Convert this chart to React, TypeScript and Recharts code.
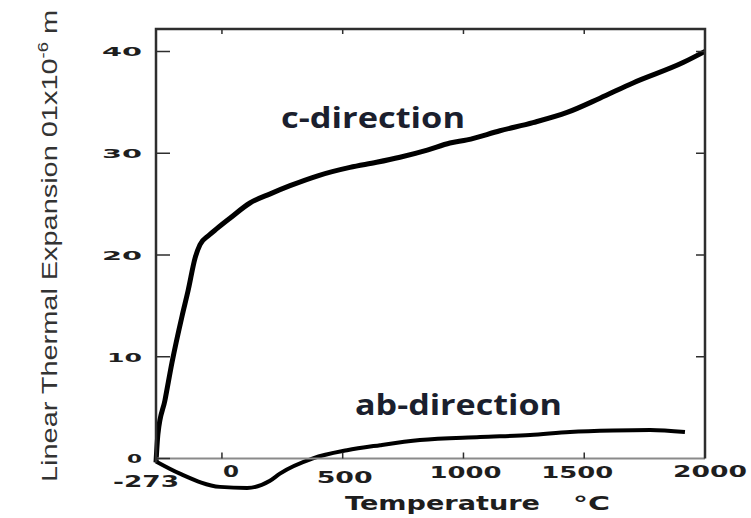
import { LineChart, Line, XAxis, YAxis } from "recharts";

document.body.style.margin = "0";

// temperature (°C) / expansion readings
const C_TEMPS = [-273, -265, -236, -207, -165, -140, -111, -91, -55, -20, 33, 116, 200, 282, 400, 530, 640, 737, 850, 944, 1015, 1151, 1288, 1429, 1565, 1702, 1909, 2000];
const C_VALUES = [-0.4, 2.4, 5.7, 9.4, 14.0, 16.5, 19.7, 21.0, 21.9, 22.6, 23.6, 25.1, 26.0, 26.8, 27.8, 28.6, 29.1, 29.6, 30.3, 31.0, 31.3, 32.2, 33.0, 34.0, 35.4, 36.9, 38.9, 40.0];

const AB_TEMPS = [-273, -174, -8, 104, 199, 240, 377, 518, 655, 820, 1069, 1276, 1441, 1619, 1773, 1917];
const AB_VALUES = [-0.3, -1.5, -2.8, -2.9, -2.2, -1.5, 0, 0.8, 1.3, 1.8, 2.1, 2.3, 2.6, 2.75, 2.8, 2.6];

const X_TICKS = [-273, 0, 500, 1000, 1500, 2000];
const X_INNER_TICKS = [0, 500, 1000, 1500];
const Y_TICKS = [0, 10, 20, 30, 40];

const X_DOMAIN: [number, number] = [-273, 2000];
const Y_DOMAIN: [number, number] = [-3.5, 42.2];

const cData = C_TEMPS.map((t, i) => ({ t, v: C_VALUES[i] }));
const abData = AB_TEMPS.map((t, i) => ({ t, v: AB_VALUES[i] }));

// chart layout
const W = 751;
const H = 518;
const M = { top: 29, right: 46, bottom: 0, left: 0 };
const Y_AXIS_W = 156;
const X_AXIS_H = 24;
const PL = M.left + Y_AXIS_W;
const PR = W - M.right;
const PT = M.top;
const PB = H - M.bottom - X_AXIS_H;
const px = (t: number) => PL + ((t - X_DOMAIN[0]) / (X_DOMAIN[1] - X_DOMAIN[0])) * (PR - PL);
const py = (v: number) => PT + ((Y_DOMAIN[1] - v) / (Y_DOMAIN[1] - Y_DOMAIN[0])) * (PB - PT);

const INK = "#1e1e1e";
const FRAME = "#2e2e2e";
const WIDE = { fontFamily: "'DejaVu Sans', sans-serif", fontWeight: 700 };

// the scanned digits are very wide; stretch them to the measured widths
const X_LABEL = {
  "-273": { dx: -10, dy: -15, w: 66 },
  "0": { dx: 9, dy: -25, w: 16 },
  "500": { dx: 2, dy: -19, w: 56 },
  "1000": { dx: 2, dy: -24, w: 72 },
  "1500": { dx: -7, dy: -24, w: 72 },
  "2000": { dx: 5, dy: -25, w: 74 },
} as Record<string, { dx: number; dy: number; w: number }>;

function XTick(props: any) {
  const { x, y, payload } = props;
  const s = String(payload.value);
  const o = X_LABEL[s] ?? { dx: 0, dy: -24, w: 60 };
  return (
    <text x={x + o.dx} y={y + o.dy} textAnchor="middle" fontSize={15} fill={INK}
      textLength={o.w} lengthAdjust="spacingAndGlyphs" {...WIDE}>
      {s}
    </text>
  );
}

function YTick(props: any) {
  const { x, y, payload } = props;
  const s = String(payload.value);
  const w = s === "0" ? 15 : s === "10" ? 35 : 40;
  return (
    <text x={x - 6} y={y + 5} textAnchor="end" fontSize={13} fill={INK}
      textLength={w} lengthAdjust="spacingAndGlyphs" {...WIDE}>
      {s}
    </text>
  );
}

export default function App() {
  const zero = py(0);
  const frame = `M${PL},${zero + 4} L${PL},${PT} L${PR},${PT} L${PR},${zero}`;
  const ticks = [
    ...Y_TICKS.map((v) => `M${PL},${py(v)} h14`),
    ...Y_TICKS.filter((v) => v > 0).map((v) => `M${PR},${py(v)} h-9`),
    ...X_INNER_TICKS.map((t) => `M${px(t)},${zero} v-6`),
    ...X_INNER_TICKS.map((t) => `M${px(t)},${PT} v5`),
  ].join(" ");
  return (
    <div style={{ position: "relative", width: W, height: H, background: "#fff" }}>
      <LineChart width={W} height={H} margin={M}>
        <XAxis dataKey="t" type="number" domain={X_DOMAIN} ticks={X_TICKS} interval={0}
          height={X_AXIS_H} axisLine={false} tickLine={false} tick={<XTick />} />
        <YAxis type="number" domain={Y_DOMAIN} ticks={Y_TICKS} interval={0} width={Y_AXIS_W}
          axisLine={false} tickLine={false} tick={<YTick />} />
        <Line data={cData} dataKey="v" type="monotone" stroke="#000" strokeWidth={5}
          dot={false} isAnimationActive={false} />
        <Line data={abData} dataKey="v" type="monotone" stroke="#000" strokeWidth={4}
          dot={false} isAnimationActive={false} />
      </LineChart>

      <svg width={W} height={H} style={{ position: "absolute", left: 0, top: 0, pointerEvents: "none" }}>
        {/* open box frame, temperature axis drawn at zero */}
        <path d={`M${PL},${zero} L${PR},${zero}`} stroke="#8a8a8a" strokeWidth={2} fill="none" />
        <path d={frame} stroke={FRAME} strokeWidth={2.5} fill="none" />
        <path d={ticks} stroke={FRAME} strokeWidth={1.5} fill="none" />

        <text transform="translate(57,246) rotate(-90)" textAnchor="middle" fontSize={22} fill="#333"
          fontFamily="'Liberation Sans Narrow', 'Liberation Sans', sans-serif"
          textLength={472} lengthAdjust="spacingAndGlyphs">
          Linear Thermal Expansion 01x10<tspan fontSize={14} dy={-9}>-6</tspan><tspan dy={9}> m</tspan>
        </text>
        <text x={345} y={510} fontSize={19} fill={INK} textLength={195} lengthAdjust="spacingAndGlyphs" {...WIDE}>
          Temperature
        </text>
        <text x={573} y={510} fontSize={19} fill={INK} textLength={37} lengthAdjust="spacingAndGlyphs" {...WIDE}>
          °C
        </text>
        <text x={281} y={128} fontSize={28} fill="#1b1f2e" fontFamily="'Open Sans', sans-serif" fontWeight={700}
          textLength={184} lengthAdjust="spacingAndGlyphs">
          c-direction
        </text>
        <text x={355} y={415} fontSize={28} fill="#1b1f2e" fontFamily="'Open Sans', sans-serif" fontWeight={700}
          textLength={207} lengthAdjust="spacingAndGlyphs">
          ab-direction
        </text>
      </svg>
    </div>
  );
}
